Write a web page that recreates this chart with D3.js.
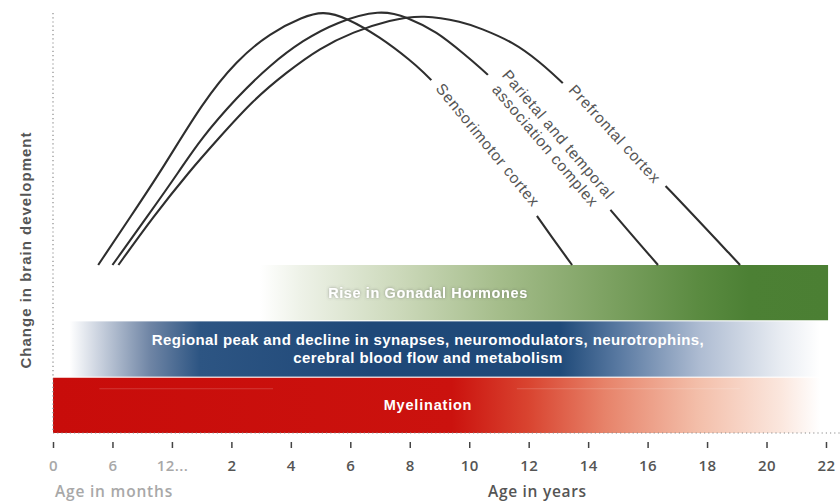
<!DOCTYPE html>
<html><head><meta charset="utf-8">
<script src="https://cdn.jsdelivr.net/npm/d3@7"></script>
<style>
html,body{margin:0;padding:0;background:#fff;}
svg{display:block;}
</style></head><body>
<svg id="chart" width="840" height="504"></svg>
<script>
// ---------- DATA ----------
const tickValues = [0, 0.5, 1, 2, 4, 6, 8, 10, 12, 14, 16, 18, 20, 22];
const tickLabels = ["0", "6", "12...", "2", "4", "6", "8", "10", "12", "14", "16", "18", "20", "22"];
const monthTickCount = 3;

const sensorimotorAge   = [0.38, 0.65, 0.93, 1.52, 2.19, 3.30, 4.41, 5.08, 5.89, 7.00, 8.01, 8.78, 10.63, 12.48, 13.46];
const sensorimotorLevel = [0, 18.8, 38.4, 63.9, 80.4, 91.0, 97.3, 99.6, 96.9, 89.4, 80.4, 72.5, 47.1, 15.7, 0];

const parietalAge   = [0.50, 0.79, 1.14, 1.47, 2.19, 3.30, 4.41, 5.55, 7.00, 7.91, 8.92, 9.79, 10.80, 12.78, 14.80, 16.35];
const parietalLevel = [0, 18.8, 37.3, 49.0, 65.9, 78.4, 88.2, 95.3, 100.2, 97.3, 91.4, 83.1, 73.3, 49.0, 20.8, 0];

const prefrontalAge   = [0.55, 0.84, 1.30, 1.76, 2.73, 3.87, 4.98, 6.09, 7.34, 8.45, 9.79, 10.36, 11.47, 12.38, 13.12, 14.90, 16.72, 19.11];
const prefrontalLevel = [0, 18.8, 36.9, 49.0, 64.7, 75.7, 85.1, 91.4, 96.1, 98.2, 95.3, 92.9, 87.5, 79.6, 71.8, 51.4, 29.8, 0];

const regionNames = [["Sensorimotor cortex"], ["Parietal and temporal", "association complex"], ["Prefrontal cortex"]];
const labelAge   = [10.63, 12.78, 14.90];
const labelLevel = [47.1, 49.0, 51.4];

const bandNames = [["Rise in Gonadal Hormones"],
                   ["Regional peak and decline in synapses, neuromodulators, neurotrophins,", "cerebral blood flow and metabolism"],
                   ["Myelination"]];
const bandStart = [2.96, 0.14, 0];
const bandEnd   = [22.07, 21.8, 21.8];

const yAxisTitle = "Change in brain development";
const monthsTitle = "Age in months";
const yearsTitle = "Age in years";

// ---------- STYLE / LAYOUT ----------
const LEFT = 53, STEP = 59.46;
const labelAngle = [50.7, 49.7, 47.4];
const bandFont = [{size: 14.5, ls: 0.6}, {size: 15, ls: 0.4}, {size: 14.5, ls: 0.8}];
const bandGradients = [
  [[0, "#ffffff"], [0.07, "#eef2e8"], [0.25, "#cbd8b9"], [0.42, "#a5bd8b"], [0.6, "#7fa364"], [0.77, "#5b8b41"], [0.86, "#4c8034"], [1, "#4b7f33"]],
  [[0, "#ffffff"], [0.04, "#c9d1de"], [0.107, "#6f85a5"], [0.173, "#2d5583"], [0.4, "#1f4878"], [0.653, "#1f4a79"], [0.733, "#5a7aa2"], [0.84, "#aebcd2"], [0.947, "#e8ecf2"], [1, "#ffffff"]],
  [[0, "#c80c0a"], [0.52, "#cb120e"], [0.62, "#d94430"], [0.72, "#e7836a"], [0.84, "#f3bea9"], [0.95, "#fbe7de"], [1, "#ffffff"]]
];

const svg = d3.select("#chart");
const defs = svg.append("defs");

const x = d3.scaleLinear().domain([0, 1, 2, 22]).range([LEFT, LEFT + 2 * STEP, LEFT + 3 * STEP, LEFT + 13 * STEP]);
const y = d3.scaleLinear().domain([0, 100]).range([265, 10]);
const bandY = d3.scaleBand().domain(d3.range(bandNames.length)).range([265, 433]).paddingInner(0.02);

// gradients
bandGradients.forEach((stops, i) => {
  const g = defs.append("linearGradient").attr("id", "bg" + i)
    .attr("x1", 0).attr("x2", 1).attr("y1", 0).attr("y2", 0);
  stops.forEach(s => g.append("stop").attr("offset", s[0]).attr("stop-color", s[1]));
});
const f = defs.append("filter").attr("id", "shadow").attr("x", "-10%").attr("y", "-50%").attr("width", "120%").attr("height", "200%");
f.append("feDropShadow").attr("dx", 0).attr("dy", 0).attr("stdDeviation", 1.6)
  .attr("flood-color", "#555").attr("flood-opacity", 0.55);

// bands
const bands = svg.append("g");
bandNames.forEach((lines, i) => {
  const x0 = x(bandStart[i]), x1 = x(bandEnd[i]);
  const y0 = bandY(i), h = bandY.bandwidth();
  bands.append("rect").attr("x", x0).attr("y", y0).attr("width", x1 - x0).attr("height", h)
    .attr("fill", `url(#bg${i})`);
  const t = bands.append("text")
    .attr("x", 428).attr("y", y0 + h / 2)
    .attr("text-anchor", "middle")
    .attr("font-family", "'Liberation Sans', Arial, sans-serif")
    .attr("font-weight", "bold")
    .attr("font-size", bandFont[i].size)
    .attr("letter-spacing", bandFont[i].ls)
    .attr("fill", "#fff");
  if (i === 0) t.attr("filter", "url(#shadow)");
  const lh = 1.2;
  lines.forEach((ln, k) => {
    t.append("tspan").attr("x", 428)
      .attr("dy", k === 0 ? `${(0.35 - (lines.length - 1) * lh / 2)}em` : `${lh}em`)
      .text(ln);
  });
});
// highlight streaks in the myelination band
const mY = bandY(2) + 11;
[[0.39, 3.4], [11.6, 19.1]].forEach(s => {
  bands.append("line").attr("x1", x(s[0])).attr("x2", x(s[1])).attr("y1", mY).attr("y2", mY)
    .attr("stroke", "#fff").attr("stroke-opacity", 0.18).attr("stroke-width", 1);
});

// dotted frame
svg.append("line").attr("x1", LEFT).attr("x2", LEFT).attr("y1", 13).attr("y2", 433)
  .attr("stroke", "#8a8a8a").attr("stroke-width", 1.2).attr("stroke-dasharray", "1.2,3");
svg.append("line").attr("x1", LEFT).attr("x2", 840).attr("y1", 433).attr("y2", 433)
  .attr("stroke", "#8a8a8a").attr("stroke-width", 1.2).attr("stroke-dasharray", "1.2,3");

// curves
const line = d3.line().x(d => x(d[0])).y(d => y(d[1])).curve(d3.curveBasis);
const curves = [
  d3.zip(sensorimotorAge, sensorimotorLevel),
  d3.zip(parietalAge, parietalLevel),
  d3.zip(prefrontalAge, prefrontalLevel)
];
const cg = svg.append("g");
curves.forEach(c => {
  cg.append("path").attr("d", line(c)).attr("fill", "none")
    .attr("stroke", "#2e2e2e").attr("stroke-width", 2.1);
});

// curve labels (white backing hides the curve under the text)
regionNames.forEach((lines, i) => {
  const g = svg.append("g")
    .attr("transform", `translate(${x(labelAge[i])},${y(labelLevel[i])}) rotate(${labelAngle[i]})`);
  const back = g.append("rect").attr("fill", "#fff");
  const t = g.append("text")
    .attr("text-anchor", "middle")
    .attr("font-family", "'Liberation Sans', Arial, sans-serif")
    .attr("font-size", 15.5)
    .attr("letter-spacing", 0.8)
    .attr("fill", "#555");
  const lh = 1.1;
  lines.forEach((ln, k) => {
    t.append("tspan").attr("x", 0)
      .attr("dy", k === 0 ? `${(0.35 - (lines.length - 1) * lh / 2)}em` : `${lh}em`)
      .text(ln);
  });
  const bb = t.node().getBBox();
  back.attr("x", bb.x - 9).attr("y", bb.y - 3).attr("width", bb.width + 18).attr("height", bb.height + 6);
});

// x axis
const axis = d3.axisBottom(x).tickValues(tickValues)
  .tickFormat((d, i) => tickLabels[i]).tickSize(6).tickPadding(12);
const ag = svg.append("g").attr("transform", "translate(0,442)").call(axis);
ag.select(".domain").remove();
ag.selectAll(".tick line").attr("stroke", "#444").attr("stroke-width", 1.5);
ag.selectAll(".tick text")
  .attr("font-family", "'Open Sans', sans-serif")
  .attr("font-size", 15).attr("font-weight", 600).attr("letter-spacing", 0.4)
  .attr("fill", (d, i) => i < monthTickCount ? "#a8a8a8" : "#555");

// axis titles
svg.append("text").attr("x", 55).attr("y", 497)
  .attr("font-family", "'Open Sans', sans-serif").attr("font-size", 15.5).attr("font-weight", 600)
  .attr("letter-spacing", 0.8)
  .attr("fill", "#a8a8a8").text(monthsTitle);
svg.append("text").attr("x", 488).attr("y", 497)
  .attr("font-family", "'Open Sans', sans-serif").attr("font-size", 15.5).attr("font-weight", 600)
  .attr("letter-spacing", 0.7)
  .attr("fill", "#555").text(yearsTitle);
svg.append("text")
  .attr("transform", "translate(31,250) rotate(-90)")
  .attr("text-anchor", "middle")
  .attr("font-family", "'Liberation Sans', Arial, sans-serif")
  .attr("font-size", 15).attr("font-weight", "bold").attr("letter-spacing", 1)
  .attr("fill", "#555").text(yAxisTitle);
</script>
</body></html>
